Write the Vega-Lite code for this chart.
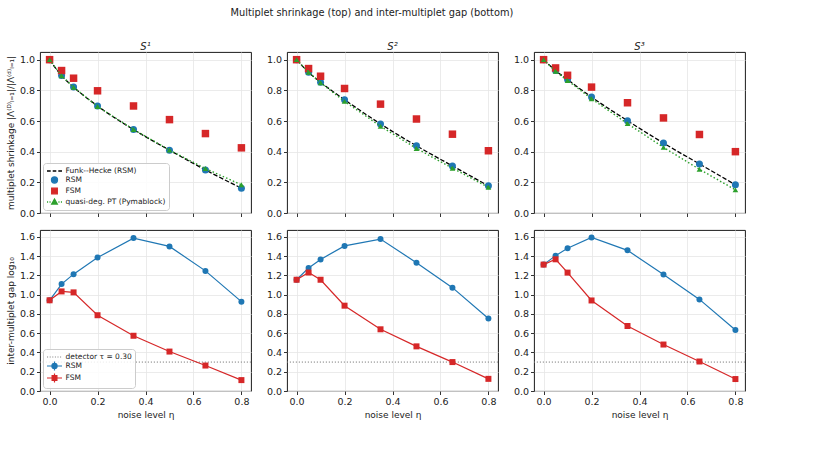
{
  "$schema": "https://vega.github.io/schema/vega-lite/v6.json",
  "padding": {"left": 5, "top": 7, "right": 5, "bottom": 5},
  "title": {"text": "Multiplet shrinkage (top) and inter-multiplet gap (bottom)", "anchor": "middle", "fontSize": 9.8, "offset": 24, "dx": -4},
  "datasets": {
    "shrink": [
      {"p": "S1", "eta": 0, "series": "Funk--Hecke (RSM)", "v": 1.0},
      {"p": "S1", "eta": 0.05, "series": "Funk--Hecke (RSM)", "v": 0.896},
      {"p": "S1", "eta": 0.1, "series": "Funk--Hecke (RSM)", "v": 0.821},
      {"p": "S1", "eta": 0.2, "series": "Funk--Hecke (RSM)", "v": 0.698},
      {"p": "S1", "eta": 0.35, "series": "Funk--Hecke (RSM)", "v": 0.544},
      {"p": "S1", "eta": 0.5, "series": "Funk--Hecke (RSM)", "v": 0.41},
      {"p": "S1", "eta": 0.65, "series": "Funk--Hecke (RSM)", "v": 0.281},
      {"p": "S1", "eta": 0.8, "series": "Funk--Hecke (RSM)", "v": 0.162},
      {"p": "S1", "eta": 0, "series": "RSM", "v": 1.0},
      {"p": "S1", "eta": 0.05, "series": "RSM", "v": 0.896},
      {"p": "S1", "eta": 0.1, "series": "RSM", "v": 0.821},
      {"p": "S1", "eta": 0.2, "series": "RSM", "v": 0.698},
      {"p": "S1", "eta": 0.35, "series": "RSM", "v": 0.544},
      {"p": "S1", "eta": 0.5, "series": "RSM", "v": 0.41},
      {"p": "S1", "eta": 0.65, "series": "RSM", "v": 0.281},
      {"p": "S1", "eta": 0.8, "series": "RSM", "v": 0.162},
      {"p": "S1", "eta": 0, "series": "FSM", "v": 1.0},
      {"p": "S1", "eta": 0.05, "series": "FSM", "v": 0.929},
      {"p": "S1", "eta": 0.1, "series": "FSM", "v": 0.879},
      {"p": "S1", "eta": 0.2, "series": "FSM", "v": 0.797},
      {"p": "S1", "eta": 0.35, "series": "FSM", "v": 0.698},
      {"p": "S1", "eta": 0.5, "series": "FSM", "v": 0.609},
      {"p": "S1", "eta": 0.65, "series": "FSM", "v": 0.518},
      {"p": "S1", "eta": 0.8, "series": "FSM", "v": 0.425},
      {"p": "S1", "eta": 0, "series": "quasi-deg. PT (Pymablock)", "v": 1.0},
      {"p": "S1", "eta": 0.05, "series": "quasi-deg. PT (Pymablock)", "v": 0.895},
      {"p": "S1", "eta": 0.1, "series": "quasi-deg. PT (Pymablock)", "v": 0.82},
      {"p": "S1", "eta": 0.2, "series": "quasi-deg. PT (Pymablock)", "v": 0.695},
      {"p": "S1", "eta": 0.35, "series": "quasi-deg. PT (Pymablock)", "v": 0.545},
      {"p": "S1", "eta": 0.5, "series": "quasi-deg. PT (Pymablock)", "v": 0.41},
      {"p": "S1", "eta": 0.65, "series": "quasi-deg. PT (Pymablock)", "v": 0.29},
      {"p": "S1", "eta": 0.8, "series": "quasi-deg. PT (Pymablock)", "v": 0.184},
      {"p": "S2", "eta": 0, "series": "Funk--Hecke (RSM)", "v": 1.0},
      {"p": "S2", "eta": 0.05, "series": "Funk--Hecke (RSM)", "v": 0.918},
      {"p": "S2", "eta": 0.1, "series": "Funk--Hecke (RSM)", "v": 0.853},
      {"p": "S2", "eta": 0.2, "series": "Funk--Hecke (RSM)", "v": 0.739},
      {"p": "S2", "eta": 0.35, "series": "Funk--Hecke (RSM)", "v": 0.581},
      {"p": "S2", "eta": 0.5, "series": "Funk--Hecke (RSM)", "v": 0.438},
      {"p": "S2", "eta": 0.65, "series": "Funk--Hecke (RSM)", "v": 0.307},
      {"p": "S2", "eta": 0.8, "series": "Funk--Hecke (RSM)", "v": 0.177},
      {"p": "S2", "eta": 0, "series": "RSM", "v": 1.0},
      {"p": "S2", "eta": 0.05, "series": "RSM", "v": 0.918},
      {"p": "S2", "eta": 0.1, "series": "RSM", "v": 0.853},
      {"p": "S2", "eta": 0.2, "series": "RSM", "v": 0.739},
      {"p": "S2", "eta": 0.35, "series": "RSM", "v": 0.581},
      {"p": "S2", "eta": 0.5, "series": "RSM", "v": 0.438},
      {"p": "S2", "eta": 0.65, "series": "RSM", "v": 0.307},
      {"p": "S2", "eta": 0.8, "series": "RSM", "v": 0.177},
      {"p": "S2", "eta": 0, "series": "FSM", "v": 1.0},
      {"p": "S2", "eta": 0.05, "series": "FSM", "v": 0.942},
      {"p": "S2", "eta": 0.1, "series": "FSM", "v": 0.892},
      {"p": "S2", "eta": 0.2, "series": "FSM", "v": 0.812},
      {"p": "S2", "eta": 0.35, "series": "FSM", "v": 0.71},
      {"p": "S2", "eta": 0.5, "series": "FSM", "v": 0.613},
      {"p": "S2", "eta": 0.65, "series": "FSM", "v": 0.514},
      {"p": "S2", "eta": 0.8, "series": "FSM", "v": 0.406},
      {"p": "S2", "eta": 0, "series": "quasi-deg. PT (Pymablock)", "v": 1.0},
      {"p": "S2", "eta": 0.05, "series": "quasi-deg. PT (Pymablock)", "v": 0.918},
      {"p": "S2", "eta": 0.1, "series": "quasi-deg. PT (Pymablock)", "v": 0.849},
      {"p": "S2", "eta": 0.2, "series": "quasi-deg. PT (Pymablock)", "v": 0.728},
      {"p": "S2", "eta": 0.35, "series": "quasi-deg. PT (Pymablock)", "v": 0.566},
      {"p": "S2", "eta": 0.5, "series": "quasi-deg. PT (Pymablock)", "v": 0.421},
      {"p": "S2", "eta": 0.65, "series": "quasi-deg. PT (Pymablock)", "v": 0.292},
      {"p": "S2", "eta": 0.8, "series": "quasi-deg. PT (Pymablock)", "v": 0.168},
      {"p": "S3", "eta": 0, "series": "Funk--Hecke (RSM)", "v": 1.0},
      {"p": "S3", "eta": 0.05, "series": "Funk--Hecke (RSM)", "v": 0.929},
      {"p": "S3", "eta": 0.1, "series": "Funk--Hecke (RSM)", "v": 0.87},
      {"p": "S3", "eta": 0.2, "series": "Funk--Hecke (RSM)", "v": 0.756},
      {"p": "S3", "eta": 0.35, "series": "Funk--Hecke (RSM)", "v": 0.602},
      {"p": "S3", "eta": 0.5, "series": "Funk--Hecke (RSM)", "v": 0.456},
      {"p": "S3", "eta": 0.65, "series": "Funk--Hecke (RSM)", "v": 0.32},
      {"p": "S3", "eta": 0.8, "series": "Funk--Hecke (RSM)", "v": 0.184},
      {"p": "S3", "eta": 0, "series": "RSM", "v": 1.0},
      {"p": "S3", "eta": 0.05, "series": "RSM", "v": 0.929},
      {"p": "S3", "eta": 0.1, "series": "RSM", "v": 0.87},
      {"p": "S3", "eta": 0.2, "series": "RSM", "v": 0.756},
      {"p": "S3", "eta": 0.35, "series": "RSM", "v": 0.602},
      {"p": "S3", "eta": 0.5, "series": "RSM", "v": 0.456},
      {"p": "S3", "eta": 0.65, "series": "RSM", "v": 0.32},
      {"p": "S3", "eta": 0.8, "series": "RSM", "v": 0.184},
      {"p": "S3", "eta": 0, "series": "FSM", "v": 1.0},
      {"p": "S3", "eta": 0.05, "series": "FSM", "v": 0.946},
      {"p": "S3", "eta": 0.1, "series": "FSM", "v": 0.898},
      {"p": "S3", "eta": 0.2, "series": "FSM", "v": 0.821},
      {"p": "S3", "eta": 0.35, "series": "FSM", "v": 0.719},
      {"p": "S3", "eta": 0.5, "series": "FSM", "v": 0.62},
      {"p": "S3", "eta": 0.65, "series": "FSM", "v": 0.512},
      {"p": "S3", "eta": 0.8, "series": "FSM", "v": 0.4},
      {"p": "S3", "eta": 0, "series": "quasi-deg. PT (Pymablock)", "v": 1.0},
      {"p": "S3", "eta": 0.05, "series": "quasi-deg. PT (Pymablock)", "v": 0.924},
      {"p": "S3", "eta": 0.1, "series": "quasi-deg. PT (Pymablock)", "v": 0.864},
      {"p": "S3", "eta": 0.2, "series": "quasi-deg. PT (Pymablock)", "v": 0.745},
      {"p": "S3", "eta": 0.35, "series": "quasi-deg. PT (Pymablock)", "v": 0.583},
      {"p": "S3", "eta": 0.5, "series": "quasi-deg. PT (Pymablock)", "v": 0.428},
      {"p": "S3", "eta": 0.65, "series": "quasi-deg. PT (Pymablock)", "v": 0.285},
      {"p": "S3", "eta": 0.8, "series": "quasi-deg. PT (Pymablock)", "v": 0.151}
    ],
    "gap": [
      {"p": "S1", "eta": 0, "series": "RSM", "v": 0.941},
      {"p": "S1", "eta": 0.05, "series": "RSM", "v": 1.109},
      {"p": "S1", "eta": 0.1, "series": "RSM", "v": 1.212},
      {"p": "S1", "eta": 0.2, "series": "RSM", "v": 1.384},
      {"p": "S1", "eta": 0.35, "series": "RSM", "v": 1.586},
      {"p": "S1", "eta": 0.5, "series": "RSM", "v": 1.5},
      {"p": "S1", "eta": 0.65, "series": "RSM", "v": 1.246},
      {"p": "S1", "eta": 0.8, "series": "RSM", "v": 0.927},
      {"p": "S1", "eta": 0, "series": "FSM", "v": 0.941},
      {"p": "S1", "eta": 0.05, "series": "FSM", "v": 1.033},
      {"p": "S1", "eta": 0.1, "series": "FSM", "v": 1.023},
      {"p": "S1", "eta": 0.2, "series": "FSM", "v": 0.786},
      {"p": "S1", "eta": 0.35, "series": "FSM", "v": 0.573},
      {"p": "S1", "eta": 0.5, "series": "FSM", "v": 0.409},
      {"p": "S1", "eta": 0.65, "series": "FSM", "v": 0.264},
      {"p": "S1", "eta": 0.8, "series": "FSM", "v": 0.113},
      {"p": "S2", "eta": 0, "series": "RSM", "v": 1.154},
      {"p": "S2", "eta": 0.05, "series": "RSM", "v": 1.277},
      {"p": "S2", "eta": 0.1, "series": "RSM", "v": 1.365},
      {"p": "S2", "eta": 0.2, "series": "RSM", "v": 1.505},
      {"p": "S2", "eta": 0.35, "series": "RSM", "v": 1.576},
      {"p": "S2", "eta": 0.5, "series": "RSM", "v": 1.331},
      {"p": "S2", "eta": 0.65, "series": "RSM", "v": 1.072},
      {"p": "S2", "eta": 0.8, "series": "RSM", "v": 0.752},
      {"p": "S2", "eta": 0, "series": "FSM", "v": 1.154},
      {"p": "S2", "eta": 0.05, "series": "FSM", "v": 1.229},
      {"p": "S2", "eta": 0.1, "series": "FSM", "v": 1.154},
      {"p": "S2", "eta": 0.2, "series": "FSM", "v": 0.885},
      {"p": "S2", "eta": 0.35, "series": "FSM", "v": 0.64},
      {"p": "S2", "eta": 0.5, "series": "FSM", "v": 0.463},
      {"p": "S2", "eta": 0.65, "series": "FSM", "v": 0.3},
      {"p": "S2", "eta": 0.8, "series": "FSM", "v": 0.126},
      {"p": "S3", "eta": 0, "series": "RSM", "v": 1.311},
      {"p": "S3", "eta": 0.05, "series": "RSM", "v": 1.404},
      {"p": "S3", "eta": 0.1, "series": "RSM", "v": 1.48},
      {"p": "S3", "eta": 0.2, "series": "RSM", "v": 1.593},
      {"p": "S3", "eta": 0.35, "series": "RSM", "v": 1.459},
      {"p": "S3", "eta": 0.5, "series": "RSM", "v": 1.208},
      {"p": "S3", "eta": 0.65, "series": "RSM", "v": 0.95},
      {"p": "S3", "eta": 0.8, "series": "RSM", "v": 0.633},
      {"p": "S3", "eta": 0, "series": "FSM", "v": 1.311},
      {"p": "S3", "eta": 0.05, "series": "FSM", "v": 1.366},
      {"p": "S3", "eta": 0.1, "series": "FSM", "v": 1.228},
      {"p": "S3", "eta": 0.2, "series": "FSM", "v": 0.939},
      {"p": "S3", "eta": 0.35, "series": "FSM", "v": 0.674},
      {"p": "S3", "eta": 0.5, "series": "FSM", "v": 0.482},
      {"p": "S3", "eta": 0.65, "series": "FSM", "v": 0.306},
      {"p": "S3", "eta": 0.8, "series": "FSM", "v": 0.124}
    ],
    "detector": [
      {"series": "detector τ = 0.30", "v": 0.3}
    ]
  },
  "resolve": {"scale": {"fill": "independent", "stroke": "independent", "shape": "independent"}},
  "spacing": 11,
  "vconcat": [
    {
      "spacing": 13,
      "resolve": {"scale": {"fill": "independent", "stroke": "independent", "shape": "independent"}},
      "hconcat": [
        {
          "width": 211, "height": 161,
          "title": {"text": "S¹", "fontStyle": "italic", "fontSize": 10, "offset": 0},
          "data": {"name": "shrink"},
          "transform": [{"filter": "datum.p === 'S1'"}],
          "encoding": {
            "x": {"field": "eta", "type": "quantitative", "scale": {"domain": [-0.04, 0.84], "nice": false, "zero": false}, "axis": {"values": [0, 0.2, 0.4, 0.6, 0.8], "labels": false, "title": null}},
            "y": {"field": "v", "type": "quantitative", "scale": {"domain": [0, 1.05], "nice": false}, "axis": {"values": [0, 0.2, 0.4, 0.6, 0.8, 1.0], "format": ".1f", "title": "multiplet shrinkage |Λ⁽ᴰ⁾ₗ₌₁|/|Λ⁽ᵈ⁾ₗ₌₁|"}}
          },
          "layer": [
            {"transform": [{"filter": "datum.series === 'Funk--Hecke (RSM)'"}], "mark": {"type": "line", "color": "#000000", "strokeDash": [4.5, 2], "strokeWidth": 1.3, "interpolate": "monotone"}},
            {"transform": [{"filter": "datum.series === 'RSM'"}], "mark": {"type": "point", "shape": "circle", "filled": true, "color": "#1f77b4", "size": 49, "opacity": 1}},
            {"transform": [{"filter": "datum.series === 'FSM'"}], "mark": {"type": "point", "shape": "square", "filled": true, "color": "#d62728", "size": 56, "opacity": 1}},
            {"transform": [{"filter": "datum.series === 'quasi-deg. PT (Pymablock)'"}], "mark": {"type": "line", "color": "#2ca02c", "strokeDash": [1.5, 2.2], "strokeWidth": 1.4}},
            {"transform": [{"filter": "datum.series === 'quasi-deg. PT (Pymablock)'"}], "mark": {"type": "point", "shape": "triangle-up", "filled": true, "color": "#2ca02c", "size": 32, "opacity": 1}},
            {
              "mark": {"type": "point", "filled": true, "size": 0},
              "encoding": {
                "fill": {"field": "series", "type": "nominal",
                  "scale": {"domain": ["Funk--Hecke (RSM)", "RSM", "FSM", "quasi-deg. PT (Pymablock)"], "range": ["#000000", "#1f77b4", "#d62728", "#2ca02c"]},
                  "legend": {"title": null, "orient": "bottom-left", "offset": 3, "fillColor": "rgba(255,255,255,0.85)", "strokeColor": "#cccccc", "cornerRadius": 3, "padding": 3, "labelFontSize": 7.5, "symbolSize": 64, "symbolStrokeWidth": 1.3, "symbolOpacity": 1, "symbolOffset": 3.5, "rowPadding": -2, "labelOffset": 6}},
                "stroke": {"field": "series", "type": "nominal",
                  "scale": {"domain": ["Funk--Hecke (RSM)", "RSM", "FSM", "quasi-deg. PT (Pymablock)"], "range": ["#000000", "#1f77b4", "#d62728", "#2ca02c"]},
                  "legend": {"title": null, "orient": "bottom-left", "offset": 3, "fillColor": "rgba(255,255,255,0.85)", "strokeColor": "#cccccc", "cornerRadius": 3, "padding": 3, "labelFontSize": 7.5, "symbolSize": 64, "symbolStrokeWidth": 1.3, "symbolOpacity": 1, "symbolOffset": 3.5, "rowPadding": -2, "labelOffset": 6}},
                "shape": {"field": "series", "type": "nominal",
                  "scale": {"domain": ["Funk--Hecke (RSM)", "RSM", "FSM", "quasi-deg. PT (Pymablock)"], "range": [
                    "M-1.875,0H-0.95M-0.45,0H0.45M0.95,0H1.875",
                    "M0.75,0A0.75,0.75 0 1,1 -0.75,0A0.75,0.75 0 1,1 0.75,0Z",
                    "M-0.7,-0.7H0.7V0.7H-0.7Z",
                    "M-1.875,0H-1.6M-1.25,0H-0.98M0.98,0H1.25M1.6,0H1.875M0,-0.75L0.7,0.5H-0.7Z"
                  ]},
                  "legend": {"title": null, "orient": "bottom-left", "offset": 3, "fillColor": "rgba(255,255,255,0.85)", "strokeColor": "#cccccc", "cornerRadius": 3, "padding": 3, "labelFontSize": 7.5, "symbolSize": 64, "symbolStrokeWidth": 1.3, "symbolOpacity": 1, "symbolOffset": 3.5, "rowPadding": -2, "labelOffset": 6}}
              }
            }
          ]
        },
        {
          "width": 211, "height": 161,
          "title": {"text": "S²", "fontStyle": "italic", "fontSize": 10, "offset": 0},
          "data": {"name": "shrink"},
          "transform": [{"filter": "datum.p === 'S2'"}],
          "encoding": {
            "x": {"field": "eta", "type": "quantitative", "scale": {"domain": [-0.04, 0.84], "nice": false, "zero": false}, "axis": {"values": [0, 0.2, 0.4, 0.6, 0.8], "labels": false, "title": null}},
            "y": {"field": "v", "type": "quantitative", "scale": {"domain": [0, 1.05], "nice": false}, "axis": {"values": [0, 0.2, 0.4, 0.6, 0.8, 1.0], "format": ".1f", "title": null}}
          },
          "layer": [
            {"transform": [{"filter": "datum.series === 'Funk--Hecke (RSM)'"}], "mark": {"type": "line", "color": "#000000", "strokeDash": [4.5, 2], "strokeWidth": 1.3, "interpolate": "monotone"}},
            {"transform": [{"filter": "datum.series === 'RSM'"}], "mark": {"type": "point", "shape": "circle", "filled": true, "color": "#1f77b4", "size": 49, "opacity": 1}},
            {"transform": [{"filter": "datum.series === 'FSM'"}], "mark": {"type": "point", "shape": "square", "filled": true, "color": "#d62728", "size": 56, "opacity": 1}},
            {"transform": [{"filter": "datum.series === 'quasi-deg. PT (Pymablock)'"}], "mark": {"type": "line", "color": "#2ca02c", "strokeDash": [1.5, 2.2], "strokeWidth": 1.4}},
            {"transform": [{"filter": "datum.series === 'quasi-deg. PT (Pymablock)'"}], "mark": {"type": "point", "shape": "triangle-up", "filled": true, "color": "#2ca02c", "size": 32, "opacity": 1}}
          ]
        },
        {
          "width": 211, "height": 161,
          "title": {"text": "S³", "fontStyle": "italic", "fontSize": 10, "offset": 0},
          "data": {"name": "shrink"},
          "transform": [{"filter": "datum.p === 'S3'"}],
          "encoding": {
            "x": {"field": "eta", "type": "quantitative", "scale": {"domain": [-0.04, 0.84], "nice": false, "zero": false}, "axis": {"values": [0, 0.2, 0.4, 0.6, 0.8], "labels": false, "title": null}},
            "y": {"field": "v", "type": "quantitative", "scale": {"domain": [0, 1.05], "nice": false}, "axis": {"values": [0, 0.2, 0.4, 0.6, 0.8, 1.0], "format": ".1f", "title": null}}
          },
          "layer": [
            {"transform": [{"filter": "datum.series === 'Funk--Hecke (RSM)'"}], "mark": {"type": "line", "color": "#000000", "strokeDash": [4.5, 2], "strokeWidth": 1.3, "interpolate": "monotone"}},
            {"transform": [{"filter": "datum.series === 'RSM'"}], "mark": {"type": "point", "shape": "circle", "filled": true, "color": "#1f77b4", "size": 49, "opacity": 1}},
            {"transform": [{"filter": "datum.series === 'FSM'"}], "mark": {"type": "point", "shape": "square", "filled": true, "color": "#d62728", "size": 56, "opacity": 1}},
            {"transform": [{"filter": "datum.series === 'quasi-deg. PT (Pymablock)'"}], "mark": {"type": "line", "color": "#2ca02c", "strokeDash": [1.5, 2.2], "strokeWidth": 1.4}},
            {"transform": [{"filter": "datum.series === 'quasi-deg. PT (Pymablock)'"}], "mark": {"type": "point", "shape": "triangle-up", "filled": true, "color": "#2ca02c", "size": 32, "opacity": 1}}
          ]
        }
      ]
    },
    {
      "spacing": 13,
      "resolve": {"scale": {"fill": "independent", "stroke": "independent", "shape": "independent"}},
      "hconcat": [
        {
          "width": 211, "height": 161,
          "encoding": {
            "y": {"field": "v", "type": "quantitative", "scale": {"domain": [0, 1.67], "nice": false}, "axis": {"values": [0, 0.2, 0.4, 0.6, 0.8, 1.0, 1.2, 1.4, 1.6], "format": ".1f", "title": "inter-multiplet gap log₁₀"}}
          },
          "layer": [
            {"data": {"name": "detector"}, "mark": {"type": "rule", "color": "#808080", "strokeDash": [1.2, 1.8], "strokeWidth": 1}},
            {"data": {"name": "gap"}, "transform": [{"filter": "datum.p === 'S1' && datum.series === 'RSM'"}],
              "mark": {"type": "line", "color": "#1f77b4", "strokeWidth": 1.2, "point": {"shape": "circle", "filled": true, "size": 36, "color": "#1f77b4"}},
              "encoding": {"x": {"field": "eta", "type": "quantitative", "scale": {"domain": [-0.04, 0.84], "nice": false, "zero": false}, "axis": {"values": [0, 0.2, 0.4, 0.6, 0.8], "format": ".1f", "title": "noise level η"}}}},
            {"data": {"name": "gap"}, "transform": [{"filter": "datum.p === 'S1' && datum.series === 'FSM'"}],
              "mark": {"type": "line", "color": "#d62728", "strokeWidth": 1.2, "point": {"shape": "square", "filled": true, "size": 36, "color": "#d62728"}},
              "encoding": {"x": {"field": "eta", "type": "quantitative"}}},
            {
              "data": {"name": "gap"}, "transform": [{"filter": "datum.p === 'S1'"}],
              "mark": {"type": "point", "filled": true, "size": 0},
              "encoding": {
                "x": {"field": "eta", "type": "quantitative"},
                "fill": {"field": "series", "type": "nominal",
                  "scale": {"domain": ["detector τ = 0.30", "RSM", "FSM"], "range": ["#808080", "#1f77b4", "#d62728"]},
                  "legend": {"title": null, "orient": "bottom-left", "offset": 3, "fillColor": "rgba(255,255,255,0.85)", "strokeColor": "#cccccc", "cornerRadius": 3, "padding": 3, "labelFontSize": 7.5, "symbolSize": 64, "symbolStrokeWidth": 1.2, "symbolOpacity": 1, "symbolOffset": 3.5, "rowPadding": -2.5, "labelOffset": 6}},
                "stroke": {"field": "series", "type": "nominal",
                  "scale": {"domain": ["detector τ = 0.30", "RSM", "FSM"], "range": ["#808080", "#1f77b4", "#d62728"]},
                  "legend": {"title": null, "orient": "bottom-left", "offset": 3, "fillColor": "rgba(255,255,255,0.85)", "strokeColor": "#cccccc", "cornerRadius": 3, "padding": 3, "labelFontSize": 7.5, "symbolSize": 64, "symbolStrokeWidth": 1.2, "symbolOpacity": 1, "symbolOffset": 3.5, "rowPadding": -2.5, "labelOffset": 6}},
                "shape": {"field": "series", "type": "nominal",
                  "scale": {"domain": ["detector τ = 0.30", "RSM", "FSM"], "range": [
                    "M-1.875,0H-1.6M-1.2,0H-0.95M-0.55,0H-0.3M0.1,0H0.35M0.75,0H1.0M1.4,0H1.65",
                    "M-1.875,0H1.875M0,-1.1V1.1M0.65,0A0.65,0.65 0 1,1 -0.65,0A0.65,0.65 0 1,1 0.65,0Z",
                    "M-1.875,0H1.875M0,-1.1V1.1M-0.6,-0.6H0.6V0.6H-0.6Z"
                  ]},
                  "legend": {"title": null, "orient": "bottom-left", "offset": 3, "fillColor": "rgba(255,255,255,0.85)", "strokeColor": "#cccccc", "cornerRadius": 3, "padding": 3, "labelFontSize": 7.5, "symbolSize": 64, "symbolStrokeWidth": 1.2, "symbolOpacity": 1, "symbolOffset": 3.5, "rowPadding": -2.5, "labelOffset": 6}}
              }
            }
          ]
        },
        {
          "width": 211, "height": 161,
          "encoding": {
            "y": {"field": "v", "type": "quantitative", "scale": {"domain": [0, 1.67], "nice": false}, "axis": {"values": [0, 0.2, 0.4, 0.6, 0.8, 1.0, 1.2, 1.4, 1.6], "format": ".1f", "title": null}}
          },
          "layer": [
            {"data": {"name": "detector"}, "mark": {"type": "rule", "color": "#808080", "strokeDash": [1.2, 1.8], "strokeWidth": 1}},
            {"data": {"name": "gap"}, "transform": [{"filter": "datum.p === 'S2' && datum.series === 'RSM'"}],
              "mark": {"type": "line", "color": "#1f77b4", "strokeWidth": 1.2, "point": {"shape": "circle", "filled": true, "size": 36, "color": "#1f77b4"}},
              "encoding": {"x": {"field": "eta", "type": "quantitative", "scale": {"domain": [-0.04, 0.84], "nice": false, "zero": false}, "axis": {"values": [0, 0.2, 0.4, 0.6, 0.8], "format": ".1f", "title": "noise level η"}}}},
            {"data": {"name": "gap"}, "transform": [{"filter": "datum.p === 'S2' && datum.series === 'FSM'"}],
              "mark": {"type": "line", "color": "#d62728", "strokeWidth": 1.2, "point": {"shape": "square", "filled": true, "size": 36, "color": "#d62728"}},
              "encoding": {"x": {"field": "eta", "type": "quantitative"}}}
          ]
        },
        {
          "width": 211, "height": 161,
          "encoding": {
            "y": {"field": "v", "type": "quantitative", "scale": {"domain": [0, 1.67], "nice": false}, "axis": {"values": [0, 0.2, 0.4, 0.6, 0.8, 1.0, 1.2, 1.4, 1.6], "format": ".1f", "title": null}}
          },
          "layer": [
            {"data": {"name": "detector"}, "mark": {"type": "rule", "color": "#808080", "strokeDash": [1.2, 1.8], "strokeWidth": 1}},
            {"data": {"name": "gap"}, "transform": [{"filter": "datum.p === 'S3' && datum.series === 'RSM'"}],
              "mark": {"type": "line", "color": "#1f77b4", "strokeWidth": 1.2, "point": {"shape": "circle", "filled": true, "size": 36, "color": "#1f77b4"}},
              "encoding": {"x": {"field": "eta", "type": "quantitative", "scale": {"domain": [-0.04, 0.84], "nice": false, "zero": false}, "axis": {"values": [0, 0.2, 0.4, 0.6, 0.8], "format": ".1f", "title": "noise level η"}}}},
            {"data": {"name": "gap"}, "transform": [{"filter": "datum.p === 'S3' && datum.series === 'FSM'"}],
              "mark": {"type": "line", "color": "#d62728", "strokeWidth": 1.2, "point": {"shape": "square", "filled": true, "size": 36, "color": "#d62728"}},
              "encoding": {"x": {"field": "eta", "type": "quantitative"}}}
          ]
        }
      ]
    }
  ],
  "config": {
    "font": "DejaVu Sans",
    "view": {"stroke": "#000000", "strokeWidth": 0.9},
    "axis": {"domain": false, "tickColor": "#000000", "tickSize": 3.5, "tickWidth": 0.8, "labelFontSize": 9.5, "labelColor": "#222222", "labelPadding": 2, "titleFontSize": 9, "titleFontWeight": "normal", "titleColor": "#222222", "gridColor": "#e6e6e6", "gridWidth": 0.8},
    "title": {"fontSize": 9, "fontWeight": "normal", "color": "#222222"},
    "legend": {"labelFontSize": 7.5, "labelColor": "#222222"}
  }
}
